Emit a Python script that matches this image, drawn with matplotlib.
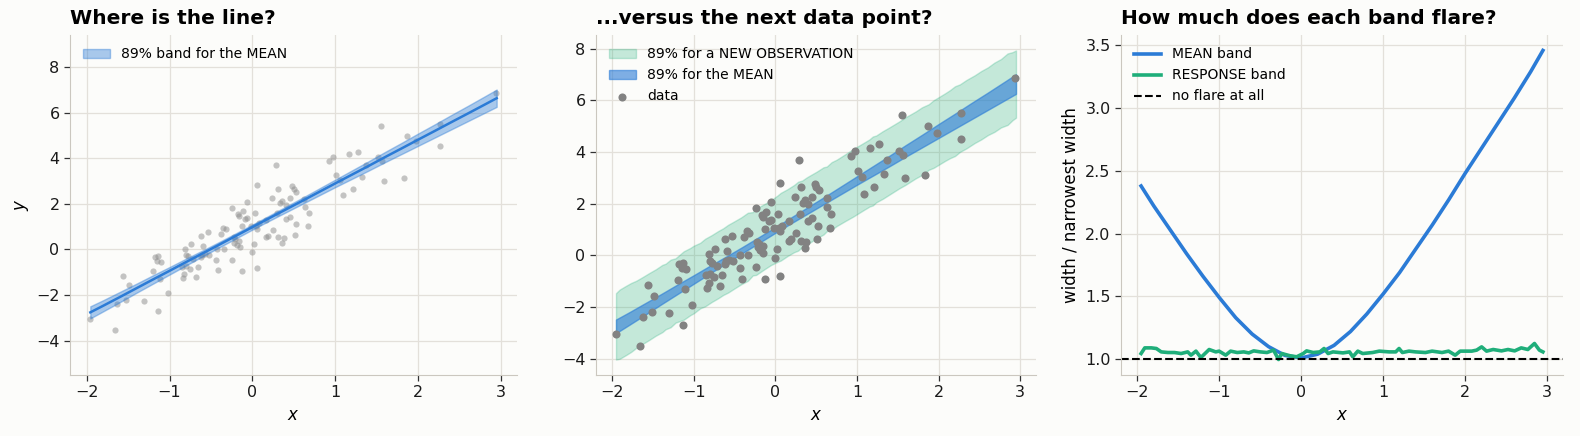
import numpy as np
import matplotlib
matplotlib.use("Agg")
import matplotlib.pyplot as plt

data_x = [-1.956, -1.66, -1.63, -1.56, -1.52, -1.49, -1.31, -1.20, -1.18, -1.14,
          -1.15, -1.10, -1.11, -1.14, -1.02, -0.855, -0.84, -0.82, -0.81, -0.80,
          -0.78, -0.80, -0.75, -0.74, -0.72, -0.675, -0.655, -0.62, -0.62, -0.59,
          -0.61, -0.57, -0.53, -0.52, -0.44, -0.43, -0.41, -0.38, -0.35, -0.34,
          -0.32, -0.245, -0.225, -0.24, -0.22, -0.205, -0.185, -0.17, -0.157, -0.153,
          -0.157, -0.13, -0.125, -0.112, -0.084, -0.06, -0.06, -0.004, 0.02, -0.016,
          0.03, 0.04, 0.056, 0.06, 0.056, 0.08, 0.165, 0.165, 0.19, 0.237,
          0.25, 0.285, 0.297, 0.31, 0.31, 0.357, 0.34, 0.378, 0.36, 0.405,
          0.405, 0.45, 0.454, 0.48, 0.50, 0.53, 0.514, 0.526, 0.627, 0.63,
          0.67, 0.68, 0.924, 0.97, 1.008, 1.06, 1.09, 1.165, 1.21, 1.27,
          1.33, 1.37, 1.514, 1.56, 1.55, 1.594, 1.835, 1.865, 1.98, 2.27,
          2.27, 2.94]
data_y = [-3.04, -3.53, -2.40, -1.17, -2.21, -1.56, -2.25, -0.96, -0.35, -0.29,
          -0.51, -0.53, -1.29, -2.69, -1.91, -0.78, -1.25, -1.08, 0.04, -0.22,
          -0.30, -0.74, -0.84, 0.23, -0.43, -1.21, -0.78, 0.61, -0.35, 0.16,
          -0.22, -0.18, 0.75, -0.22, -0.48, 0.01, -0.91, 0.70, 0.94, 0.01,
          0.88, 1.83, 0.53, -0.44, 0.30, 0.45, 0.19, 1.57, 0.36, 0.10,
          1.47, 1.01, -0.94, 1.69, 1.34, 2.06, 1.36, -0.09, 0.23, 1.04,
          1.61, 1.05, 0.92, 2.81, -0.82, 1.14, 1.31, 0.55, 0.61, 2.27,
          0.87, 3.70, 1.60, 2.65, 0.55, 0.29, 2.03, 0.52, 2.14, 1.97,
          1.34, 1.43, 2.27, 2.77, 2.66, 2.53, 0.62, 1.13, 2.22, 1.88,
          1.05, 1.60, 3.86, 4.05, 3.27, 3.03, 2.38, 4.17, 2.65, 4.29,
          3.16, 3.70, 4.05, 3.90, 5.42, 3.00, 3.12, 4.99, 4.75, 5.49,
          4.52, 6.86]

# 89% band for the mean line
band_x = [-1.956, -1.8, -1.6, -1.4, -1.2, -1.0, -0.8, -0.6, -0.4, -0.2, 0.0,
          0.2, 0.4, 0.6, 0.8, 1.0, 1.2, 1.4, 1.6, 1.8, 2.0, 2.2, 2.4, 2.6, 2.8, 2.95]
mean_lo = [-3.02, -2.71, -2.31, -1.90, -1.50, -1.10, -0.70, -0.30, 0.09, 0.48, 0.87,
           1.25, 1.62, 1.99, 2.36, 2.73, 3.09, 3.45, 3.82, 4.18, 4.54, 4.90, 5.26,
           5.62, 5.98, 6.25]
mean_hi = [-2.49, -2.22, -1.86, -1.50, -1.13, -0.77, -0.40, -0.04, 0.33, 0.71, 1.09,
           1.48, 1.87, 2.26, 2.66, 3.06, 3.46, 3.86, 4.27, 4.67, 5.08, 5.48, 5.89,
           6.29, 6.70, 7.01]
mean_ratio = [2.38, 2.22, 2.03, 1.84, 1.66, 1.49, 1.33, 1.20, 1.10, 1.03, 1.01,
              1.04, 1.11, 1.22, 1.36, 1.52, 1.69, 1.88, 2.07, 2.27, 2.48, 2.68,
              2.88, 3.08, 3.29, 3.46]

# width ratio of the band for a new observation
resp_x = [-1.956, -1.911, -1.831, -1.770, -1.710, -1.629, -1.548, -1.468, -1.387, -1.347,
          -1.286, -1.226, -1.125, -1.044, -1.004, -0.923, -0.863, -0.782, -0.702, -0.641,
          -0.581, -0.500, -0.419, -0.339, -0.278, -0.238, -0.137, -0.056, 0.024, 0.065,
          0.145, 0.226, 0.278, 0.327, 0.387, 0.508, 0.589, 0.629, 0.690, 0.750,
          0.871, 0.952, 1.073, 1.153, 1.194, 1.234, 1.315, 1.395, 1.516, 1.597,
          1.718, 1.798, 1.879, 1.940, 2.081, 2.141, 2.202, 2.262, 2.343, 2.444,
          2.524, 2.605, 2.685, 2.766, 2.847, 2.907, 2.95]
resp_ratio = [1.045, 1.09, 1.09, 1.085, 1.058, 1.053, 1.053, 1.045, 1.058, 1.032,
              1.064, 1.013, 1.077, 1.058, 1.064, 1.032, 1.064, 1.053, 1.058, 1.05,
              1.066, 1.058, 1.053, 1.072, 0.997, 1.045, 1.027, 1.019, 1.045, 1.066,
              1.053, 1.058, 1.085, 1.045, 1.058, 1.05, 1.058, 1.019, 1.064, 1.045,
              1.053, 1.064, 1.058, 1.058, 1.085, 1.053, 1.064, 1.058, 1.053, 1.064,
              1.053, 1.064, 1.032, 1.064, 1.064, 1.072, 1.098, 1.064, 1.077, 1.066,
              1.077, 1.066, 1.09, 1.077, 1.125, 1.072, 1.058]
resp_half_min = 1.23  # narrowest half-width of the observation band

blue = "#2b7bd6"
green = "#1fae7a"
bg = "#fcfcfa"

plt.rcParams["font.family"] = ["DejaVu Sans"]
plt.rcParams["axes.edgecolor"] = "#cbc7bf"
plt.rcParams["xtick.color"] = "#333333"
plt.rcParams["ytick.color"] = "#333333"
plt.rcParams["xtick.labelcolor"] = "#1a1a1a"
plt.rcParams["ytick.labelcolor"] = "#1a1a1a"
plt.rcParams["xtick.labelsize"] = 11.5
plt.rcParams["ytick.labelsize"] = 11.5

fig = plt.figure(figsize=(15.8, 4.36), dpi=100, facecolor=bg)
W, H = 1580, 436

def make_ax(left, right, top=35, bottom=375):
    ax = fig.add_axes([left / W, (H - bottom) / H, (right - left) / W, (bottom - top) / H])
    ax.set_facecolor(bg)
    ax.grid(True, color="#e3e0da", linewidth=0.9)
    ax.set_axisbelow(True)
    for s in ["top", "right"]:
        ax.spines[s].set_visible(False)
    ax.tick_params(length=4, width=0.9)
    return ax

mid = (np.array(mean_lo) + np.array(mean_hi)) / 2

# panel 1
ax1 = make_ax(70, 517)
ax1.scatter(data_x, data_y, s=20, color="#8c8c8c", alpha=0.5, linewidths=0, zorder=2)
ax1.fill_between(band_x, mean_lo, mean_hi, color=blue, alpha=0.4, label="89% band for the MEAN", zorder=3)
ax1.plot(band_x, mid, color=blue, lw=1.8, zorder=4)
ax1.set_ylim(-5.5, 9.4)
ax1.set_xlabel("$x$", fontsize=12)
ax1.set_ylabel("$y$", fontsize=12)
ax1.set_title("Where is the line?", loc="left", fontweight="bold", fontsize=14.5, pad=8)
ax1.legend(loc="upper left", frameon=False, fontsize=10)

# panel 2
ax2 = make_ax(596, 1036)
obs_mid = np.interp(resp_x, band_x, mid)
obs_half = resp_half_min * np.array(resp_ratio)
ax2.fill_between(resp_x, obs_mid - obs_half, obs_mid + obs_half, color=green, alpha=0.25,
                 label="89% for a NEW OBSERVATION", zorder=2)
ax2.fill_between(band_x, mean_lo, mean_hi, color=blue, alpha=0.6, label="89% for the MEAN", zorder=3)
ax2.scatter(data_x, data_y, s=34, color="#828282", linewidths=0, label="data", zorder=4)
ax2.set_xlabel("$x$", fontsize=12)
ax2.set_title("...versus the next data point?", loc="left", fontweight="bold", fontsize=14.5, pad=8)
ax2.legend(loc="upper left", frameon=False, fontsize=10)

# panel 3
ax3 = make_ax(1121, 1563)
ax3.plot(band_x, mean_ratio, color=blue, lw=2.6, label="MEAN band")
ax3.plot(resp_x, resp_ratio, color=green, lw=2.6, label="RESPONSE band")
ax3.axhline(1.0, color="black", ls="--", lw=1.5, label="no flare at all")
ax3.set_xlabel("$x$", fontsize=12)
ax3.set_ylabel("width / narrowest width", fontsize=12)
ax3.set_title("How much does each band flare?", loc="left", fontweight="bold", fontsize=14.5, pad=8)
ax3.legend(loc="upper left", frameon=False, fontsize=10)

for ax in (ax1, ax2, ax3):
    ax.set_xticks([-2, -1, 0, 1, 2, 3])

fig.savefig("out.png", dpi=100, facecolor=bg)
